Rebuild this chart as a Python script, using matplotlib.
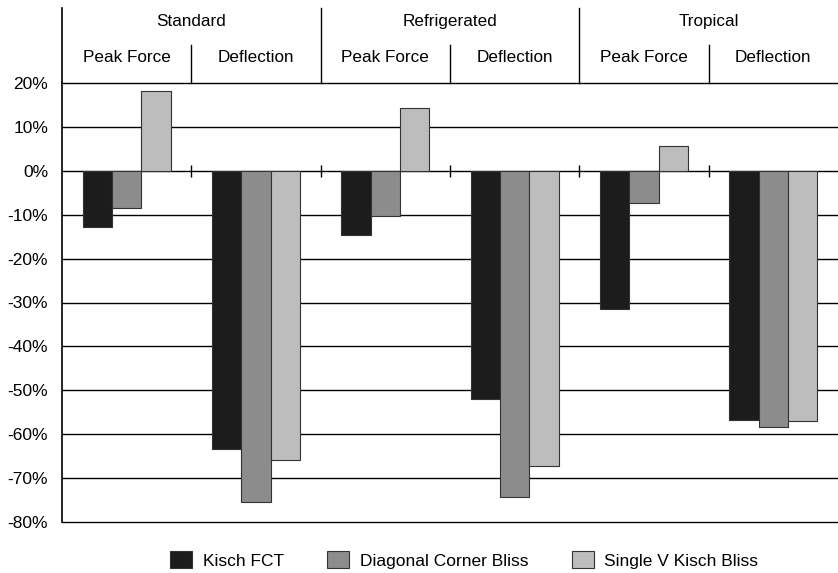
import numpy as np
import matplotlib.pyplot as plt

plt.rcParams['font.family'] = ['Liberation Sans', 'DejaVu Sans']

# data (percent change)
conditions = ['Standard', 'Refrigerated', 'Tropical']
measures = ['Peak Force', 'Deflection']
series = ['Kisch FCT', 'Diagonal Corner Bliss', 'Single V Kisch Bliss']
kisch_fct = [-12.8, -63.3, -14.6, -51.9, -31.4, -56.8]
diagonal_bliss = [-8.5, -75.5, -10.2, -74.2, -7.3, -58.3]
single_v_bliss = [18.2, -65.8, 14.3, -67.3, 5.6, -56.9]
yticks = [20, 10, 0, -10, -20, -30, -40, -50, -60, -70, -80]

colors = ['#1c1c1c', '#8c8c8c', '#bdbdbd']

fig = plt.figure(figsize=(8.38, 5.73), dpi=100)
ax = fig.add_axes([62/838, 51/573, 776/838, 439/573])

x = np.arange(6)
w = 0.226
for i, (vals, c, lab) in enumerate(zip([kisch_fct, diagonal_bliss, single_v_bliss], colors, series)):
    ax.bar(x + (i - 1)*w, vals, w, color=c, edgecolor='#333333', linewidth=0.8, label=lab, zorder=3)

ax.set_xlim(-0.5, 5.5)
ax.set_ylim(-80, 20)
ax.set_yticks(yticks)
ax.set_yticklabels(['%d%%' % t for t in yticks], fontsize=12.5)
ax.tick_params(axis='y', length=0, pad=10)
ax.set_xticks([])
for t in yticks:
    ax.axhline(t, color='black', lw=1, zorder=1, clip_on=False)
for s in ['top', 'right', 'bottom']:
    ax.spines[s].set_visible(False)
ax.spines['left'].set_linewidth(1.2)

# small ticks on zero line between groups
bounds = np.arange(0.5, 5.5, 1.0)
ax.plot(bounds, np.zeros_like(bounds), ls='none', marker='|', ms=9, mew=1, color='black', zorder=4)

# header
trans = ax.get_xaxis_transform()
ax.plot([-0.5, -0.5], [1.0, 1.171], transform=trans, color='black', lw=1.2, clip_on=False)
for k, cond in enumerate(conditions):
    ax.text(2*k + 0.5, 1.141, cond, transform=trans, ha='center', va='center', fontsize=12.3)
    if k > 0:
        ax.plot([2*k - 0.5]*2, [1.0, 1.171], transform=trans, color='black', lw=1, clip_on=False)
    ax.plot([2*k + 0.5]*2, [1.0, 1.087], transform=trans, color='black', lw=1, clip_on=False)
    for m, meas in enumerate(measures):
        ax.text(2*k + m, 1.059, meas, transform=trans, ha='center', va='center', fontsize=12.3)

fig.legend(loc='center', bbox_to_anchor=(0.554, 0.023), ncol=3, frameon=False,
           fontsize=12.5, handlelength=1.27, handleheight=1.15, columnspacing=2.5,
           handletextpad=0.6, borderpad=0.2)

fig.savefig('out.png', dpi=100)
